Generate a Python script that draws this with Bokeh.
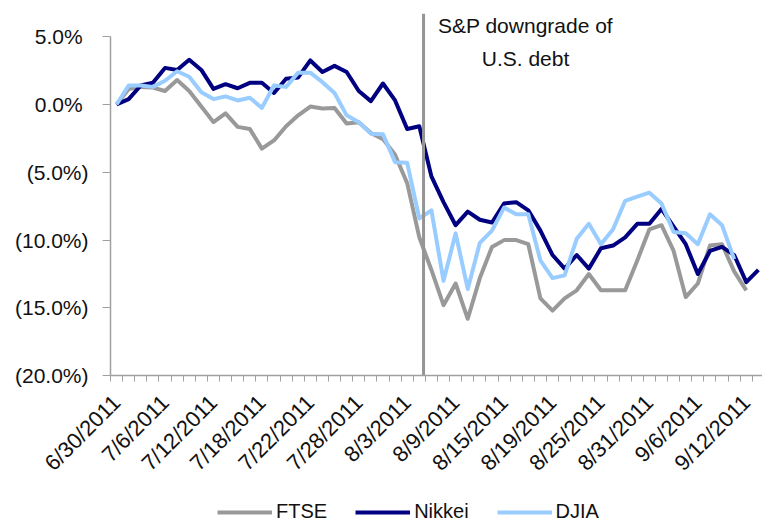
import math
from bokeh.plotting import figure
from bokeh.models import FixedTicker, Legend, LegendItem, Label, Range1d
from bokeh.embed import file_html
from bokeh.resources import INLINE

# ---- data -------------------------------------------------------------
dates = [
    "6/30/2011", "7/1/2011", "7/4/2011", "7/5/2011", "7/6/2011", "7/7/2011",
    "7/8/2011", "7/11/2011", "7/12/2011", "7/13/2011", "7/14/2011", "7/15/2011",
    "7/18/2011", "7/19/2011", "7/20/2011", "7/21/2011", "7/22/2011", "7/25/2011",
    "7/26/2011", "7/27/2011", "7/28/2011", "7/29/2011", "8/1/2011", "8/2/2011",
    "8/3/2011", "8/4/2011", "8/5/2011", "8/8/2011", "8/9/2011", "8/10/2011",
    "8/11/2011", "8/12/2011", "8/15/2011", "8/16/2011", "8/17/2011", "8/18/2011",
    "8/19/2011", "8/22/2011", "8/23/2011", "8/24/2011", "8/25/2011", "8/26/2011",
    "8/29/2011", "8/30/2011", "8/31/2011", "9/1/2011", "9/2/2011", "9/5/2011",
    "9/6/2011", "9/7/2011", "9/8/2011", "9/9/2011", "9/12/2011", "9/13/2011",
]

ftse = [
    0.0, 1.15, 1.3, 1.25, 1.0, 1.8, 1.0, -0.15, -1.3, -0.65,
    -1.65, -1.8, -3.25, -2.65, -1.6, -0.8, -0.15, -0.3, -0.25, -1.4,
    -1.3, -2.1, -2.55, -3.7, -5.8, -9.8, -12.2, -14.8, -13.2, -15.8,
    -12.8, -10.5, -10.0, -10.0, -10.3, -14.3, -15.2, -14.3, -13.7, -12.5,
    -13.7, -13.7, -13.7, -11.5, -9.2, -8.9, -10.8, -14.2, -13.2, -10.4,
    -10.3, -12.3, -13.7,
]

nikkei = [
    0.0, 0.4, 1.4, 1.6, 2.7, 2.55, 3.3, 2.55, 1.15, 1.5,
    1.2, 1.6, 1.6, 0.85, 1.9, 2.0, 3.25, 2.4, 2.85, 2.4,
    1.0, 0.25, 1.55, 0.3, -1.8, -1.6, -5.3, -7.2, -8.9, -7.9,
    -8.5, -8.7, -7.3, -7.2, -7.8, -9.3, -11.1, -12.1, -11.1, -12.1,
    -10.6, -10.4, -9.8, -8.8, -8.8, -7.7, -9.0, -10.3, -12.5, -10.8,
    -10.5, -11.1, -13.1, -12.2,
]

djia = [
    0.0, 1.4, 1.4, 1.3, 1.75, 2.45, 2.05, 0.9, 0.4, 0.6,
    0.3, 0.5, -0.25, 1.4, 1.3, 2.35, 2.35, 1.65, 0.85, -0.8,
    -1.3, -2.15, -2.2, -4.25, -4.3, -8.4, -7.8, -13.0, -9.5, -13.6,
    -10.2, -9.3, -7.6, -8.1, -8.1, -11.5, -12.8, -12.6, -9.9, -8.8,
    -10.3, -9.2, -7.1, -6.8, -6.5, -7.3, -9.4, -9.5, -10.3, -8.1,
    -8.9, -11.4,
]

y_ticks = [-20, -15, -10, -5, 0, 5]
y_tick_labels = ["(20.0%)", "(15.0%)", "(10.0%)", "(5.0%)", "0.0%", "5.0%"]
x_tick_step = 4

annotation_lines = ["S&P downgrade of", "U.S. debt"]
downgrade_pos = 25.35  # between 8/4 and 8/5 on the category axis

FONT = "Liberation Sans"
TXT = "#111111"
AX = "#a0a0a0"

X_START, X_END = -0.5, 53.34   # plotted category span

# ---- figure -----------------------------------------------------------
# The frame covers the whole figure; the axes are drawn at fixed data
# locations so that labels and legend outside the plotting area stay visible.
p = figure(
    width=762, height=524, output_backend="svg", toolbar_location=None,
    x_range=Range1d(-9.583, X_END), y_range=Range1d(-30.97, 7.67),
    min_border_left=0, min_border_right=0, min_border_top=0,
    min_border_bottom=0,
)
p.outline_line_color = None
p.xgrid.grid_line_color = None
p.ygrid.grid_line_color = None
p.background_fill_color = "white"
p.border_fill_color = "white"

xs = list(range(len(dates)))
r_ftse = p.line(xs[:len(ftse)], ftse, line_color="#999999", line_width=4,
                line_join="round")
r_nik = p.line(xs[:len(nikkei)], nikkei, line_color="#000080", line_width=4,
               line_join="round")
r_dj = p.line(xs[:len(djia)], djia, line_color="#99ccff", line_width=4,
              line_join="round")

p.segment(x0=[downgrade_pos], y0=[y_ticks[0]], x1=[downgrade_pos], y1=[6.7],
          line_color="#959595", line_width=3)

p.add_layout(Label(x=33.77, y=5.83, text=annotation_lines[0],
                   text_align="center", text_baseline="alphabetic",
                   text_font=FONT, text_font_size="21px", text_color=TXT))
p.add_layout(Label(x=33.77, y=3.39, text=annotation_lines[1],
                   text_align="center", text_baseline="alphabetic",
                   text_font=FONT, text_font_size="21px", text_color=TXT))

# ---- x axis -----------------------------------------------------------
major = list(range(0, len(dates), x_tick_step))
p.xaxis.fixed_location = y_ticks[0]
p.xaxis.bounds = (X_START, X_END)
p.xaxis.ticker = FixedTicker(ticks=major,
                             minor_ticks=[i - 0.5 for i in range(len(dates) + 1)])
p.xaxis.major_label_overrides = {i: dates[i] for i in major}
p.xaxis.major_label_orientation = math.pi / 4
p.xaxis.major_tick_line_color = None
p.xaxis.major_tick_out = 6
p.xaxis.major_tick_in = 0
p.xaxis.minor_tick_out = 6
p.xaxis.minor_tick_in = 0
p.xaxis.minor_tick_line_color = AX
p.xaxis.axis_line_color = AX
p.xaxis.axis_line_width = 1.5
p.xaxis.major_label_standoff = 17
p.xaxis.major_label_text_font = FONT
p.xaxis.major_label_text_font_size = "22px"
p.xaxis.major_label_text_color = TXT

# ---- y axis -----------------------------------------------------------
# accounting style: the closing parenthesis hangs to the right of the
# positive labels, so those get a punctuation-width space after them
y_display = [t if t.startswith("(") else t + "\u2008" for t in y_tick_labels]
p.yaxis.fixed_location = X_START
p.yaxis.ticker = FixedTicker(ticks=y_ticks, minor_ticks=[])
p.yaxis.bounds = (y_ticks[0], y_ticks[-1])
p.yaxis.major_label_overrides = dict(zip(y_ticks, y_display))
p.yaxis.major_tick_out = 8
p.yaxis.major_tick_in = 0
p.yaxis.major_tick_line_color = AX
p.yaxis.minor_tick_line_color = None
p.yaxis.axis_line_color = AX
p.yaxis.axis_line_width = 1.5
p.yaxis.major_label_standoff = 14
p.yaxis.major_label_text_font = FONT
p.yaxis.major_label_text_font_size = "21px"
p.yaxis.major_label_text_color = TXT

# ---- legend -----------------------------------------------------------
legend = Legend(
    items=[LegendItem(label="FTSE", renderers=[r_ftse]),
           LegendItem(label="Nikkei", renderers=[r_nik]),
           LegendItem(label="DJIA", renderers=[r_dj])],
    orientation="horizontal", location=(217, 1),
    glyph_width=55, glyph_height=20, label_height=20, label_standoff=4,
    spacing=28, padding=0, margin=0,
    border_line_color=None, background_fill_alpha=0,
    label_text_font=FONT, label_text_font_size="20px", label_text_color=TXT,
)
p.add_layout(legend)

open("out.html", "w").write(file_html(p, INLINE))
